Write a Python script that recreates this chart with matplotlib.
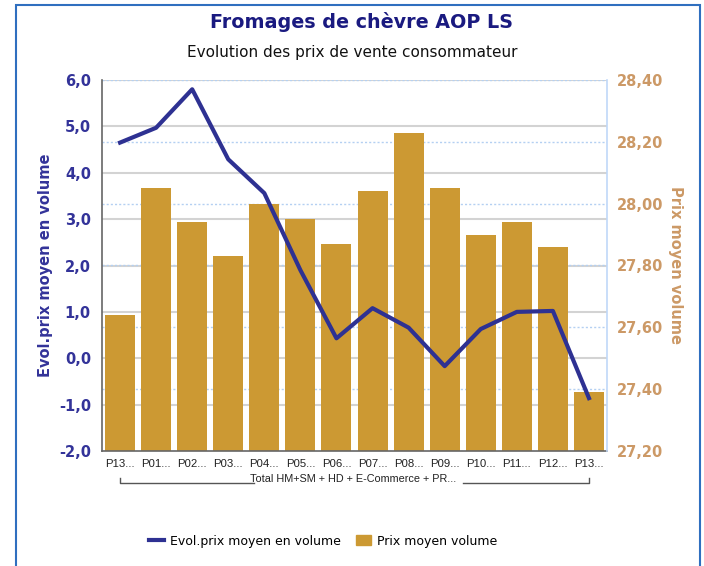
import matplotlib
matplotlib.use("Agg")
import matplotlib.pyplot as plt
from matplotlib.patches import Rectangle
from matplotlib.lines import Line2D
from matplotlib.transforms import blended_transform_factory
from matplotlib.ticker import FuncFormatter
import numpy as np

categories = ["P13...", "P01...", "P02...", "P03...", "P04...", "P05...", "P06...",
              "P07...", "P08...", "P09...", "P10...", "P11...", "P12...", "P13..."]
prix_moyen = [27.64, 28.05, 27.94, 27.83, 28.00, 27.95, 27.87,
              28.04, 28.23, 28.05, 27.90, 27.94, 27.86, 27.39]
evol_prix = [4.65, 4.97, 5.80, 4.29, 3.56, 1.90, 0.43,
             1.08, 0.66, -0.17, 0.63, 1.00, 1.02, -0.86]
left_ticks = [-2, -1, 0, 1, 2, 3, 4, 5, 6]
right_ticks = [27.2, 27.4, 27.6, 27.8, 28.0, 28.2, 28.4]
group_label = "Total HM+SM + HD + E-Commerce + PR..."

BAR = "#CC9933"
LINE = "#2E3192"
LEFTC = "#333399"
RIGHTC = "#CC9966"

fig = plt.figure(figsize=(7.04, 5.66), dpi=100)
fig.patch.set_facecolor("white")

# outer frame
fig.patches.append(Rectangle((16/704, -0.05), (700-16)/704, 1.05 - 5/566,
                             transform=fig.transFigure, fill=False,
                             edgecolor="#2F6FBF", linewidth=1.5, clip_on=False))

ax = fig.add_axes([102/704, 1-451/566, (607-102)/704, (451-80)/566])
ax2 = ax.twinx()

x = np.arange(len(categories))
ax.bar(x, prix_moyen, width=0.83, color=BAR, zorder=2)
ax.set_ylim(27.2, 28.4)
ax.set_xlim(-0.5, len(categories) - 0.5)

ax2.set_ylim(-2, 6)
ax2.plot(x, evol_prix, color=LINE, linewidth=3, zorder=3)

# swap sides: bars axis on right, line axis on left
ax.yaxis.tick_right()
ax.yaxis.set_label_position("right")
ax2.yaxis.tick_left()
ax2.yaxis.set_label_position("left")

ax.set_yticks(right_ticks)
ax2.set_yticks(left_ticks)
ax.yaxis.set_major_formatter(FuncFormatter(lambda v, p: f"{v:.2f}".replace(".", ",")))
ax2.yaxis.set_major_formatter(FuncFormatter(lambda v, p: f"{v:.1f}".replace(".", ",")))

ax.tick_params(axis="y", length=0, pad=7, labelsize=10.5, labelcolor=RIGHTC)
ax2.tick_params(axis="y", length=0, pad=8, labelsize=10.5, labelcolor=LEFTC)
for t in ax.get_yticklabels():
    t.set_fontweight("bold")
for t in ax2.get_yticklabels():
    t.set_fontweight("bold")

ax.set_xticks(x)
ax.set_xticklabels(categories, fontsize=8.2, family="Liberation Sans", color="#222222")
ax.tick_params(axis="x", length=0, pad=6)

# gridlines behind bars
for v in right_ticks:
    ax.axhline(v, color="#B4D0F2", linewidth=1, linestyle=(0, (1.5, 1.5)), zorder=0.6)
tr = blended_transform_factory(ax.transAxes, ax2.transData)
for v in left_ticks[1:]:
    ax.plot([0, 1], [v, v], transform=tr, color="#D3D3D3", linewidth=1.5, zorder=0.5)

for a in (ax, ax2):
    for s in a.spines.values():
        s.set_visible(False)
ax2.spines["left"].set_visible(True)
ax2.spines["left"].set_color("#666666")
ax2.spines["left"].set_linewidth(1.2)
ax.spines["bottom"].set_visible(True)
ax.spines["bottom"].set_color("#666666")
ax.spines["bottom"].set_linewidth(1.2)
ax2.spines["right"].set_visible(True)
ax2.spines["right"].set_color("#C0D8F8")
ax2.spines["right"].set_linewidth(1.2)

ax2.set_ylabel("Evol.prix moyen en volume", color=LEFTC, fontsize=10.5,
               fontweight="bold", labelpad=4)
ax.set_ylabel("Prix moyen volume", color=RIGHTC, fontsize=10.5,
              fontweight="bold", rotation=-90, labelpad=14)

# group label with bracket
fig.text(353/704, 1-479/566, group_label, ha="center", va="center",
         fontsize=7.8, family="Liberation Sans", color="#222222")
gtr = blended_transform_factory(ax.transData, fig.transFigure)
yb = 1-483/566
yt = 1-478/566
ax.add_line(Line2D([0, 0, 3.72], [yt, yb, yb], transform=gtr, color="#555555",
                   linewidth=1, clip_on=False))
ax.add_line(Line2D([9.5, 13, 13], [yb, yb, yt], transform=gtr, color="#555555",
                   linewidth=1, clip_on=False))

fig.text(362/704, 1-22/566, "Fromages de chèvre AOP LS", ha="center", va="center",
         fontsize=13.8, fontweight="bold", color="#1A1A80")
fig.text(352/704, 1-52/566, "Evolution des prix de vente consommateur", ha="center",
         va="center", fontsize=11, color="#111111")

# legend
handles = [Line2D([], [], color=LINE, linewidth=3),
           Rectangle((0, 0), 1, 1, color=BAR)]
fig.legend(handles, ["Evol.prix moyen en volume", "Prix moyen volume"],
           loc="center", bbox_to_anchor=(323/704, 1-541/566), ncol=2, frameon=False,
           fontsize=9, handlelength=1.2, handleheight=0.9, columnspacing=1.2,
           handletextpad=0.5)

fig.savefig("out.png", dpi=100)
